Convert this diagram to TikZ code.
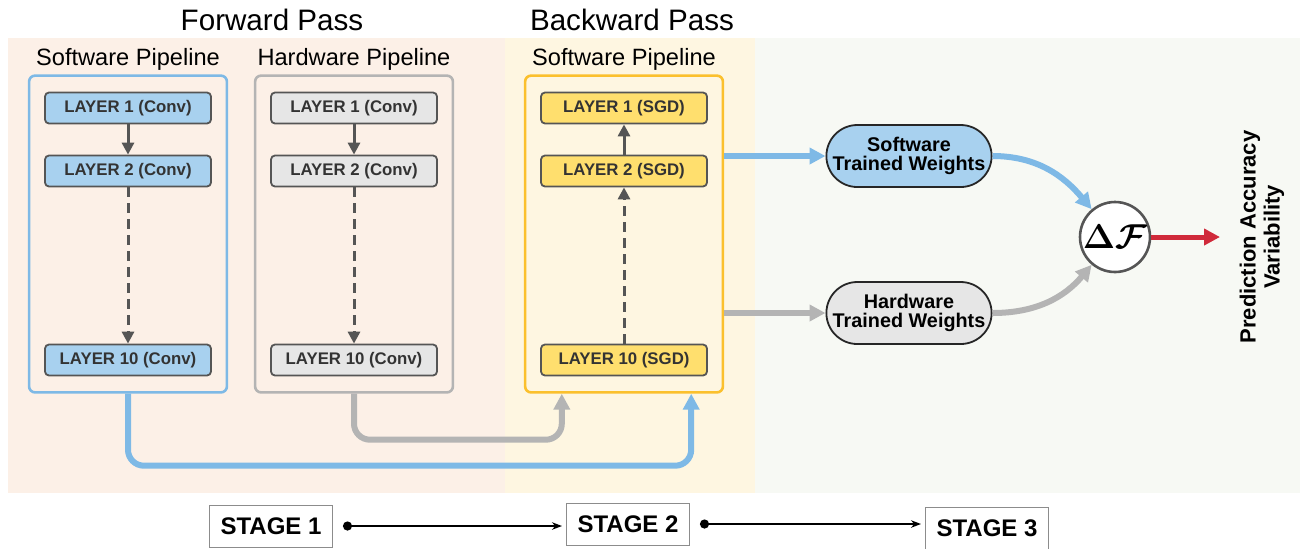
\documentclass[tikz,border=0pt]{standalone}
\usepackage{fontspec}
\setmainfont{Liberation Sans}
\usetikzlibrary{arrows.meta,positioning,fit,shapes.misc}

\definecolor{pinkbg}{HTML}{FCF0E7}
\definecolor{yellowbg}{HTML}{FEF6E1}
\definecolor{greenbg}{HTML}{F7F9F4}
\definecolor{swfill}{HTML}{A8D1EF}
\definecolor{swline}{HTML}{7EB9E6}
\definecolor{hwfill}{HTML}{E6E6E6}
\definecolor{hwline}{HTML}{B4B4B4}
\definecolor{sgdfill}{HTML}{FFDF6E}
\definecolor{sgdline}{HTML}{FBC02D}
\definecolor{darkline}{HTML}{555555}
\definecolor{redarrow}{HTML}{D02A3A}

\begin{document}
\begin{tikzpicture}[
        x=0.5pt, y=-0.5pt,
        layer/.style={draw=darkline, line width=0.9pt, rounded corners=2pt,
            minimum width=83pt, minimum height=15.5pt, inner sep=0pt,
            font=\fontsize{8.4}{10}\selectfont\bfseries, text=black!80},
        swlayer/.style={layer, fill=swfill},
        hwlayer/.style={layer, fill=hwfill},
        sgdlayer/.style={layer, fill=sgdfill},
        pipe/.style={line width=1.3pt, rounded corners=3pt, inner xsep=7.5pt, inner ysep=8pt},
        pipelabel/.style={font=\fontsize{11.8}{14}\selectfont, inner sep=0pt},
        title/.style={font=\fontsize{14.8}{17}\selectfont, inner sep=0pt},
        flow/.style={draw=darkline, line width=1.5pt, -{Triangle[length=6pt,width=6pt]}},
        dashflow/.style={flow, dash pattern=on 5pt off 3pt},
        route/.style={line width=3pt, rounded corners=8pt, -{Triangle[length=8pt,width=8pt]}},
        weights/.style={rounded rectangle, draw=black!85, line width=0.9pt,
            minimum width=81pt, minimum height=31pt, inner sep=0pt, align=center,
            font=\fontsize{9.9}{9.5}\selectfont\bfseries},
        stage/.style={draw=black!45, line width=0.5pt, minimum width=61.5pt,
            minimum height=21pt, font=\fontsize{12}{14}\selectfont\bfseries},
        stagearrow/.style={line width=1.3pt, {Circle[length=4.5pt]}-{Stealth[length=5pt]}}
    ]
    \useasboundingbox (0,0) rectangle (1306,548);

    % Backgrounds
    \fill[pinkbg] (8,38) rectangle (505,493);
    \fill[yellowbg] (505,38) rectangle (755,493);
    \fill[greenbg] (755,38) rectangle (1300,493);

    % Titles
    \node[title] (fwd) at (272,20) {Forward Pass};
    \node[title] (bwd) at (632,20) {Backward Pass};

    % Software pipeline (forward)
    \node[swlayer] (sw1) at (128,108) {LAYER 1 (Conv)};
    \node[swlayer] (sw2) at (128,171) {LAYER 2 (Conv)};
    \node[swlayer] (sw10) at (128,360) {LAYER 10 (Conv)};
    \node[pipe, draw=swline, fit=(sw1)(sw10)] (swbox) {};
    \node[pipelabel, above=2pt of swbox] (swlabel) {Software Pipeline};
    \draw[flow] (sw1) -- (sw2);
    \draw[dashflow] (sw2) -- (sw10);

    % Hardware pipeline (forward)
    \node[hwlayer] (hw1) at (354,108) {LAYER 1 (Conv)};
    \node[hwlayer] (hw2) at (354,171) {LAYER 2 (Conv)};
    \node[hwlayer] (hw10) at (354,360) {LAYER 10 (Conv)};
    \node[pipe, draw=hwline, fit=(hw1)(hw10)] (hwbox) {};
    \node[pipelabel, above=2pt of hwbox] (hwlabel) {Hardware Pipeline};
    \draw[flow] (hw1) -- (hw2);
    \draw[dashflow] (hw2) -- (hw10);

    % Software pipeline (backward)
    \node[sgdlayer] (bw1) at (624,108) {LAYER 1 (SGD)};
    \node[sgdlayer] (bw2) at (624,171) {LAYER 2 (SGD)};
    \node[sgdlayer] (bw10) at (624,360) {LAYER 10 (SGD)};
    \node[pipe, draw=sgdline, fit=(bw1)(bw10)] (bwbox) {};
    \node[pipelabel, above=2pt of bwbox] (bwlabel) {Software Pipeline};
    \draw[flow] (bw2) -- (bw1);
    \draw[dashflow] (bw10) -- (bw2);

    % Routes into the backward pass
    \draw[route, hwline] (hwbox.south) -- ++(0,46) -| ([xshift=19pt]bwbox.south west);
    \draw[route, swline] (swbox.south) -- ++(0,72) -| ([xshift=-16.5pt]bwbox.south east);

    % Trained weights
    \node[weights, fill=swfill] (swtw) at (909,156) {Software\\Trained Weights};
    \node[weights, fill=hwfill] (hwtw) at (909,313) {Hardware\\Trained Weights};
    \draw[route, swline] (bwbox.east |- swtw) -- (swtw.west);
    \draw[route, hwline] (bwbox.east |- hwtw) -- (hwtw.west);

    % Difference
    \node[circle, draw=darkline, line width=1.3pt, fill=white, minimum size=35pt, inner sep=0pt,
        font=\fontsize{16}{16}\selectfont\boldmath] (df) at (1115,237) {$\Delta\mathcal{F}$};
    \draw[route, swline] (swtw.east) to[out=0, in=130] (df.130);
    \draw[route, hwline] (hwtw.east) to[out=0, in=-130] (df.-130);
    \coordinate (pavin) at (1220,237);
    \draw[route, redarrow, line width=2.5pt] (df.east) -- (pavin);
    \node[rotate=90, align=center, font=\fontsize{11}{12}\selectfont\bfseries] (pav) at (1262,237)
        {Prediction Accuracy\\Variability};

    % Stages
    \node[stage] (st1) at (271,526) {STAGE 1};
    \node[stage] (st2) at (628,524) {STAGE 2};
    \node[stage] (st3) at (987,528) {STAGE 3};
    \draw[stagearrow] ([xshift=5pt]st1.east) -- ([xshift=-2pt]st2.west |- st1.east);
    \draw[stagearrow] ([xshift=5pt]st2.east) -- ([xshift=-2pt]st3.west |- st2.east);

\end{tikzpicture}
\end{document}
